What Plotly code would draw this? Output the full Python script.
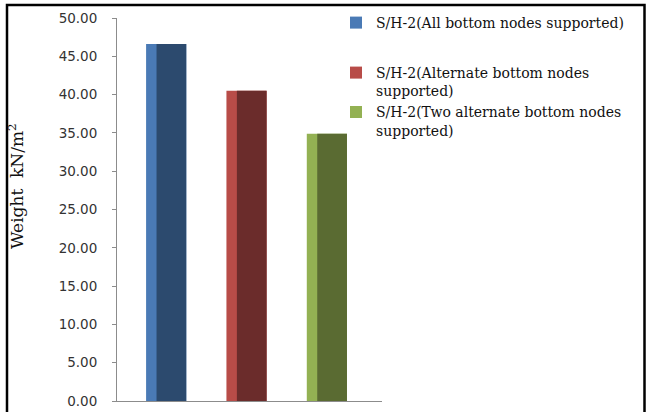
import plotly.graph_objects as go

# ---- data ----
legend_labels = [
    "S/H-2(All bottom nodes supported)",
    "S/H-2(Alternate bottom nodes<br>supported)",
    "S/H-2(Two alternate bottom nodes<br>supported)",
]
weights = [46.6, 40.5, 34.9]
y_ticks = [0, 5, 10, 15, 20, 25, 30, 35, 40, 45, 50]
y_title = "Weight\u00a0\u00a0kN/m<sup>2</sup>"

light_colors = ["#4a7ab5", "#b84c48", "#93b153"]
dark_colors = ["#2c4a6e", "#6b2c2b", "#5a6b32"]
legend_ids = ["legend", "legend2", "legend2"]

W, H = 646, 412
L, R, T, B = 117, 382, 18, 401  # plot area in px


def px_x(px):
    return (px - L) / (R - L)


def px_y(py):
    return (B - py) / (B - T)


fig = go.Figure()
for i, (name, val) in enumerate(zip(legend_labels, weights)):
    fig.add_trace(go.Bar(
        x=[i], y=[val], name=name,
        width=0.5, offset=-0.25,
        marker=dict(color=light_colors[i], line=dict(width=0)),
        legendgroup=f"g{i}", showlegend=True, legend=legend_ids[i],
    ))
    fig.add_trace(go.Bar(
        x=[i], y=[val], name=name,
        width=0.37, offset=-0.12,
        marker=dict(color=dark_colors[i], line=dict(width=0)),
        legendgroup=f"g{i}", showlegend=False, legend=legend_ids[i],
    ))

legend_font = dict(family="DejaVu Serif", size=14, color="#111111")
fig.update_layout(
    width=W, height=H,
    margin=dict(l=L, r=W - R, t=T, b=H - B, pad=0, autoexpand=False),
    paper_bgcolor="white", plot_bgcolor="white",
    barmode="overlay",
    showlegend=True,
    legend=dict(
        x=px_x(336), y=px_y(7), xanchor="left", yanchor="top",
        font=legend_font, valign="top", tracegroupgap=0,
        bgcolor="rgba(0,0,0,0)", itemwidth=30,
    ),
    legend2=dict(
        x=px_x(336), y=px_y(57), xanchor="left", yanchor="top",
        font=legend_font, valign="top", tracegroupgap=0,
        bgcolor="rgba(0,0,0,0)", itemwidth=30,
    ),
    xaxis=dict(
        range=[-0.612, 2.686], showticklabels=False, ticks="",
        showgrid=False, zeroline=False, automargin=False,
        showline=True, linecolor="#8c8c8c", linewidth=1,
        fixedrange=True,
    ),
    yaxis=dict(
        range=[0, 50], tickvals=y_ticks, tickformat=".2f",
        ticks="outside", ticklen=4, tickcolor="#8c8c8c",
        ticklabelstandoff=12, automargin=False,
        tickfont=dict(family="DejaVu Sans", size=13.5, color="#333333"),
        showgrid=False, zeroline=False,
        showline=True, linecolor="#8c8c8c", linewidth=1,
        fixedrange=True,
    ),
    annotations=[dict(
        text=y_title, textangle=-90,
        x=px_x(16), y=px_y(186), xref="paper", yref="paper",
        xanchor="center", yanchor="middle", showarrow=False,
        font=dict(family="DejaVu Serif", size=17, color="#111111"),
    )],
    shapes=[dict(
        type="rect", xref="paper", yref="paper",
        x0=px_x(7), x1=px_x(644.5), y0=px_y(430), y1=px_y(5),
        line=dict(color="black", width=2.5), fillcolor="rgba(0,0,0,0)",
        layer="above",
    )],
)

fig.write_html("out.html")
